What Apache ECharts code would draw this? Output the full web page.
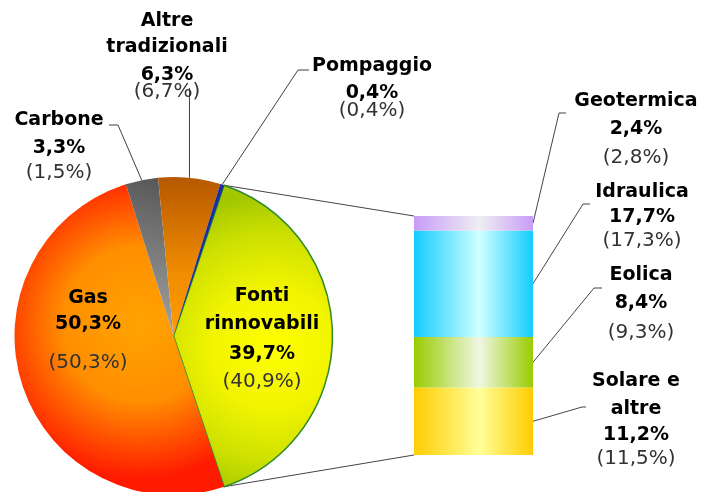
<!DOCTYPE html>
<html>
<head>
<meta charset="utf-8">
<script src="https://cdn.jsdelivr.net/npm/echarts@6/dist/echarts.min.js"></script>
<style>
  html, body { margin: 0; padding: 0; background: #ffffff; }
  #chart { width: 704px; height: 492px; }
</style>
</head>
<body>
<div id="chart"></div>
<script>
// Quota di produzione per fonte; tra parentesi la quota dell'anno precedente
const sourceNames = ['Fonti rinnovabili', 'Gas', 'Carbone', 'Altre tradizionali', 'Pompaggio'];
const sourceShares = [39.7, 50.3, 3.3, 6.3, 0.4];
const sourcePrevShares = [40.9, 50.3, 1.5, 6.7, 0.4];

// Dettaglio delle rinnovabili, dal basso verso l'alto della colonna
const renewNames = ['Solare e altre', 'Eolica', 'Idraulica', 'Geotermica'];
const renewShares = [11.2, 8.4, 17.7, 2.4];
const renewPrevShares = [11.5, 9.3, 17.3, 2.8];

// ---- layout ----
const PIE = { cx: 173.5, cy: 336, r: 159 };
const GRID = { left: 414, top: 216, width: 119, height: 239 };
const FONT = 'DejaVu Sans';

// how names wrap inside their labels
const wrapped = {
  'Fonti rinnovabili': ['Fonti', 'rinnovabili'],
  'Altre tradizionali': ['Altre', 'tradizionali'],
  'Solare e altre': ['Solare e', 'altre']
};

// label blocks: horizontal centre, vertical centre of every text line, leader path
const spots = {
  'Fonti rinnovabili': { x: 262, lines: [296.5, 324, 354, 381.7] },
  'Gas': { x: 88, lines: [298.5, 324, 362.5] },
  'Carbone': { x: 59, lines: [120, 148.5, 173], guide: [[118, 125], [109, 125]] },
  'Altre tradizionali': { x: 167, lines: [21.5, 47.5, 75.5, 92], guideUpTo: 88 },
  'Pompaggio': { x: 372, lines: [66.5, 93, 111], guide: [[298, 70], [309, 70]] },
  'Geotermica': { x: 636, lines: [101.3, 129, 158], guide: [[559, 113], [566, 113]] },
  'Idraulica': { x: 642, lines: [192.5, 217.5, 241], guide: [[583, 204], [590, 204]] },
  'Eolica': { x: 641, lines: [275.5, 303, 333], guide: [[594, 288], [602, 288]] },
  'Solare e altre': { x: 636, lines: [381, 409, 435.5, 459], guide: [[582, 407], [586, 407]] }
};

const pct = v => v.toFixed(1).replace('.', ',') + '%';

// line heights that put each text line on its centre, keeping the smallest one as large as possible
function lineHeightsFor(centres) {
  const k = [0], s = [1];
  for (let i = 1; i < centres.length; i++) {
    k[i] = 2 * (centres[i] - centres[i - 1]) - k[i - 1];
    s[i] = -s[i - 1];
  }
  let minA = Infinity, minB = Infinity;
  k.forEach((v, i) => { if (s[i] > 0) minA = Math.min(minA, v); else minB = Math.min(minB, v); });
  const h0 = (minB - minA) / 2;
  return k.map((v, i) => v + s[i] * h0);
}

function richLabel(name, share, prev) {
  const spot = spots[name];
  const heights = lineHeightsFor(spot.lines);
  const lines = (wrapped[name] || [name]).concat([pct(share), '(' + pct(prev) + ')']);
  const rich = {};
  const parts = lines.map((t, i) => {
    const last = i === lines.length - 1;
    rich['l' + i] = {
      fontFamily: FONT,
      fontSize: last ? 20 : 19,
      fontWeight: last ? 'normal' : 'bold',
      color: last ? '#333333' : '#000000',
      lineHeight: heights[i],
      align: 'center'
    };
    return '{l' + i + '|' + t + '}';
  });
  return { formatter: parts.join('\n'), rich: rich, top: spot.lines[0] - heights[0] / 2 };
}

// angle (clockwise from 12 o'clock) where the renewables slice begins: centred on 3 o'clock
const pieStartAngle = 360 * sourceShares[0] / 100 / 2;
const clockStart = 90 - pieStartAngle;

function pieEdge(clockDeg) {
  const a = clockDeg * Math.PI / 180;
  return [PIE.cx + PIE.r * Math.sin(a), PIE.cy - PIE.r * Math.cos(a)];
}
function sliceMid(i) {
  let acc = 0;
  for (let j = 0; j < i; j++) acc += sourceShares[j];
  return clockStart + 360 * (acc + sourceShares[i] / 2) / 100;
}

const sliceFills = [
  { type: 'radial', x: 0.62, y: 0.54, r: 0.95, colorStops: [
    { offset: 0, color: '#FFFF00' }, { offset: 0.4, color: '#F2F400' }, { offset: 0.75, color: '#CCE000' }, { offset: 1, color: '#A4C800' }] },
  { type: 'radial', x: 0.6, y: 0.45, r: 0.74, colorStops: [
    { offset: 0, color: '#FFA400' }, { offset: 0.5, color: '#FF8E00' }, { offset: 1, color: '#FF1A00' }] },
  { type: 'linear', x: 1, y: 0, x2: 0, y2: 1, colorStops: [
    { offset: 0, color: '#555555' }, { offset: 1, color: '#A8A8A8' }] },
  { type: 'linear', x: 0, y: 0, x2: 0, y2: 1, colorStops: [
    { offset: 0, color: '#B65800' }, { offset: 0.6, color: '#F08C00' }, { offset: 1, color: '#FF9C00' }] },
  '#1A2E9C'
];
const insideLabels = ['Fonti rinnovabili', 'Gas'];

const barFills = {
  'Solare e altre': ['#FFCC00', '#FFFF99'],
  'Eolica': ['#99CC00', '#F0F7E4'],
  'Idraulica': ['#12CCFF', '#D0FFFF'],
  'Geotermica': ['#C89CF7', '#EFEEF2']
};

const pieLabels = sourceNames.map((n, i) => richLabel(n, sourceShares[i], sourcePrevShares[i]));
const barLabels = renewNames.map((n, i) => richLabel(n, renewShares[i], renewPrevShares[i]));

const pieSeries = {
  type: 'pie',
  center: [PIE.cx, PIE.cy],
  radius: PIE.r,
  startAngle: pieStartAngle,
  clockwise: true,
  avoidLabelOverlap: false,
  padAngle: 0,
  label: { show: true, position: 'outside' },
  labelLine: { show: true, smooth: false, lineStyle: { color: '#404040', width: 1 } },
  emphasis: { disabled: true },
  data: sourceNames.map((n, i) => {
    const inside = insideLabels.indexOf(n) >= 0;
    return {
      name: n,
      value: sourceShares[i],
      itemStyle: {
        color: sliceFills[i],
        borderColor: n === 'Fonti rinnovabili' ? '#2E8B2E' : 'transparent',
        borderWidth: n === 'Fonti rinnovabili' ? 1.5 : 0,
        borderRadius: 0
      },
      label: { position: inside ? 'inside' : 'outside', formatter: pieLabels[i].formatter, rich: pieLabels[i].rich },
      labelLine: { show: !inside }
    };
  }),
  labelLayout: function (params) {
    const i = params.dataIndex;
    const name = sourceNames[i];
    const spot = spots[name];
    const out = { x: spot.x, y: pieLabels[i].top, align: 'center', verticalAlign: 'top' };
    if (spot.guide || spot.guideUpTo != null) {
      const edge = pieEdge(sliceMid(i));
      out.labelLinePoints = spot.guide
        ? [edge, spot.guide[0], spot.guide[1]]
        : [edge, [edge[0], spot.guideUpTo], [edge[0], spot.guideUpTo]];
    }
    return out;
  }
};

const barSeries = renewNames.map((n, i) => ({
  type: 'bar',
  name: n,
  stack: 'rinnovabili',
  barWidth: '100%',
  xAxisIndex: 0,
  yAxisIndex: 0,
  emphasis: { disabled: true },
  itemStyle: {
    borderWidth: 0,
    borderRadius: 0,
    color: { type: 'linear', x: 0, y: 0, x2: 1, y2: 0, colorStops: [
      { offset: 0, color: barFills[n][0] },
      { offset: 0.55, color: barFills[n][1] },
      { offset: 1, color: barFills[n][0] }] }
  },
  label: { show: true, formatter: barLabels[i].formatter, rich: barLabels[i].rich },
  labelLayout: function () {
    return { x: spots[n].x, y: barLabels[i].top, align: 'center', verticalAlign: 'top' };
  },
  data: [renewShares[i]]
}));

const total = renewShares.reduce((a, b) => a + b, 0);

const chart = echarts.init(document.getElementById('chart'), null, { renderer: 'canvas' });
chart.setOption({
  animation: false,
  backgroundColor: '#ffffff',
  grid: { left: GRID.left, top: GRID.top, width: GRID.width, height: GRID.height, containLabel: false },
  xAxis: { type: 'category', data: ['Rinnovabili'], show: false },
  yAxis: { type: 'value', min: 0, max: total, show: false },
  series: [pieSeries].concat(barSeries)
});

// connector lines from the renewables slice to the column, and leaders of the column labels
const yPix = v => chart.convertToPixel({ gridIndex: 0 }, [0, v])[1];
const lineStyle = { stroke: '#454545', lineWidth: 1, fill: null };
const graphics = [
  { type: 'polyline', silent: true, z: 1, shape: { points: [pieEdge(clockStart), [GRID.left, yPix(total)]] }, style: lineStyle },
  { type: 'polyline', silent: true, z: 1, shape: { points: [pieEdge(clockStart + 360 * sourceShares[0] / 100), [GRID.left, yPix(0)]] }, style: lineStyle }
];
let below = 0;
renewNames.forEach((n, i) => {
  const start = [GRID.left + GRID.width, yPix(below + renewShares[i] / 2)];
  below += renewShares[i];
  graphics.push({ type: 'polyline', silent: true, z: 1,
    shape: { points: [start, spots[n].guide[0], spots[n].guide[1]] }, style: lineStyle });
});
chart.setOption({ graphic: graphics });
</script>
</body>
</html>
